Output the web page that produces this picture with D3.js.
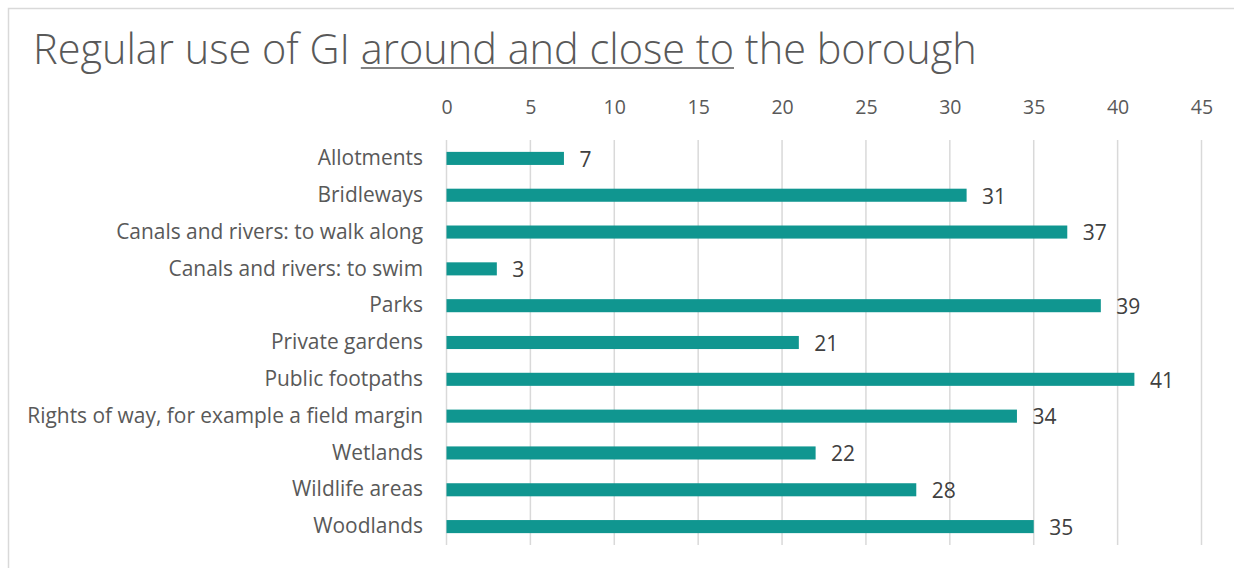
<!DOCTYPE html>
<html>
<head>
<meta charset="utf-8">
<script src="https://cdn.jsdelivr.net/npm/d3@7"></script>
<style>
  html, body { margin: 0; padding: 0; background: #fff; }
  svg { display: block; }
</style>
</head>
<body>
<svg id="chart" width="1234" height="568"></svg>
<script>
// Green infrastructure sites and how many respondents use them regularly
const categories = [
  "Allotments",
  "Bridleways",
  "Canals and rivers: to walk along",
  "Canals and rivers: to swim",
  "Parks",
  "Private gardens",
  "Public footpaths",
  "Rights of way, for example a field margin",
  "Wetlands",
  "Wildlife areas",
  "Woodlands"
];
const values = [7, 31, 37, 3, 39, 21, 41, 34, 22, 28, 35];
const tickValues = [0, 5, 10, 15, 20, 25, 30, 35, 40, 45];
const titleParts = [
  { text: "Regular use of GI ", underline: false },
  { text: "around and close to", underline: true },
  { text: " the borough", underline: false }
];

const svg = d3.select("#chart");
const W = 1234, H = 568;
const FONT = "'Open Sans', sans-serif";

// chart frame (only top and left edges fall inside the view)
svg.append("rect")
  .attr("x", 8.5).attr("y", 8.5)
  .attr("width", W + 20).attr("height", H + 20)
  .attr("fill", "#fff")
  .attr("stroke", "#d9d9d9")
  .attr("stroke-width", 1.5);

// title
const title = svg.append("text")
  .attr("x", 33).attr("y", 64)
  .attr("fill", "#595959")
  .style("font-family", FONT)
  .style("font-weight", 300)
  .style("font-size", "36px");
title.selectAll("tspan")
  .data(titleParts)
  .join("tspan")
  .text(d => d.text);
// fit title to its line width
const tw = title.node().getComputedTextLength();
title.style("font-size", (36 * 944 / tw) + "px");

// underline for the emphasised phrase
{
  const node = title.node();
  const start = titleParts[0].text.length;
  const end = start + titleParts[1].text.length - 1;
  const x0 = node.getStartPositionOfChar(start).x;
  const x1 = node.getEndPositionOfChar(end).x;
  svg.append("line")
    .attr("x1", x0).attr("x2", x1)
    .attr("y1", 68).attr("y2", 68)
    .attr("stroke", "#595959")
    .attr("stroke-width", 1.6);
}

const x = d3.scaleLinear().domain([0, 45]).range([446.5, 1201.5]);
const y = d3.scaleBand().domain(categories).range([140, 545]).paddingInner(0.645).paddingOuter(0.3225);

// gridlines
svg.append("g")
  .selectAll("line")
  .data(tickValues)
  .join("line")
  .attr("x1", d => x(d)).attr("x2", d => x(d))
  .attr("y1", 140).attr("y2", 545)
  .attr("stroke", "#d9d9d9")
  .attr("stroke-width", 1.5);

// top axis labels
const xAxis = d3.axisTop(x).tickValues(tickValues).tickSize(0).tickPadding(0);
const gx = svg.append("g").attr("transform", "translate(0,114)").call(xAxis);
gx.select(".domain").remove();
gx.selectAll("text")
  .attr("fill", "#595959")
  .style("font-family", FONT)
  .style("font-size", "19.5px");

// category labels
const yAxis = d3.axisLeft(y).tickSize(0).tickPadding(0);
const gy = svg.append("g").attr("transform", "translate(423,0)").call(yAxis);
gy.select(".domain").remove();
gy.selectAll("text")
  .attr("fill", "#595959")
  .style("font-family", FONT)
  .style("font-size", "19px");
// size the labels so the longest one spans the label column
{
  const longest = d3.max(gy.selectAll("text").nodes(), n => n.getComputedTextLength());
  gy.selectAll("text").style("font-size", (19 * 396 / longest) + "px");
}

// bars
svg.append("g")
  .selectAll("rect")
  .data(values)
  .join("rect")
  .attr("x", x(0))
  .attr("y", (d, i) => y(categories[i]))
  .attr("width", d => x(d) - x(0))
  .attr("height", y.bandwidth())
  .attr("fill", "#109690");

// value labels
svg.append("g")
  .selectAll("text")
  .data(values)
  .join("text")
  .attr("x", d => x(d) + 15.5)
  .attr("y", (d, i) => y(categories[i]) + y.bandwidth() / 2 + 1)
  .attr("dy", "0.35em")
  .attr("fill", "#404040")
  .style("font-family", FONT)
  .style("font-size", "21px")
  .text(d => d);
</script>
</body>
</html>
